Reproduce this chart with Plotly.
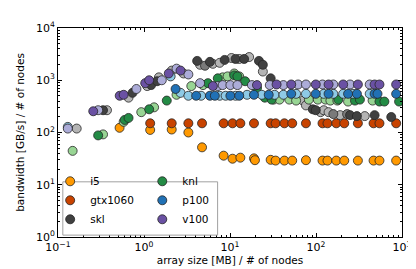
import plotly.graph_objects as go

# ---------------- data ----------------
i5_x = [0.52, 1.18, 2.1, 3.28, 4.73, 8.43, 10.7, 13.2, 19.0, 19.5, 29.7, 33.9, 42.9, 52.9, 76.4,
        119, 136, 172, 213, 307, 467, 547, 855]
i5_y = [123, 112, 114, 100, 52, 36, 31.5, 33, 32, 29.5, 30, 29, 29, 29, 29.5,
        29, 29, 29, 29, 29, 29, 29, 29]

gtx_x = [1.18, 2.1, 3.28, 4.73, 8.43, 10.7, 13.2, 19.0, 29.7, 33.9, 42.9, 52.9, 76.4,
         119, 136, 172, 213, 307, 467, 547, 855]
gtx_y = [150, 150, 150, 150, 150, 150, 150, 150, 150, 150, 150, 150, 150,
         150, 150, 150, 150, 150, 150, 150, 150]

skl_light_x = [0.165, 0.371, 0.661, 1.089, 1.49, 2.10, 2.88, 4.49, 6.32, 7.59, 10.4, 12.8, 16.7,
               24.1, 70.6, 76.4, 113, 123, 140, 191, 369]
skl_light_y = [119, 267, 464, 774, 1136, 1531, 1348, 1978, 2064, 2154, 2667, 2556, 2780,
               1468, 408, 330, 245, 267, 245, 215, 206]
skl_mid_x = [5.12, 159, 230]
skl_mid_y = [1895, 225, 225]
skl_dark_x = [0.334, 0.735, 1.21, 1.42, 4.15, 5.84, 8.66, 11.6, 14.6, 21.7, 24.1, 29.7,
              91.8, 99.4, 249, 299, 480, 750]
skl_dark_y = [267, 574, 808, 958, 2346, 2248, 2449, 2556, 2556, 2346, 1978, 1089,
              278, 267, 215, 206, 215, 198]

knl_light_x = [0.148, 0.334, 0.58, 0.93, 1.31, 2.39, 3.55, 4.86, 8.22, 9.37, 11.2, 12.8,
               32.1, 37.6, 48.9, 58.7, 82.6, 105, 129, 147, 177, 236, 455]
knl_light_y = [44.5, 92, 160, 245, 303, 527, 774, 808, 1136, 1186, 1348, 1186,
               426, 426, 426, 408, 426, 426, 426, 408, 408, 391, 408]
knl_dark_x = [0.293, 0.596, 0.661, 1.148, 1.84, 5.54, 7.21, 11.2, 12.2, 15.0, 20.6, 25.4, 30.5,
              182, 284, 324, 547, 624, 925]
knl_dark_y = [88, 174, 190, 278, 408, 880, 1089, 1238, 1186, 958, 711, 464, 426,
              426, 408, 426, 391, 391, 391]

p100_light_x = [0.13, 2.04, 2.66, 3.28, 4.61, 7.59, 8.89, 11.6, 15.8, 23.4, 33.0, 41.8,
                58.7, 76.4, 123, 159, 207, 269, 421]
p100_light_y = [128, 1186, 574, 505, 505, 505, 505, 505, 527, 527, 527, 527,
                550, 550, 550, 550, 550, 550, 550]
p100_dark_x = [2.33, 4.04, 5.84, 6.66, 10.1, 12.8, 19.0, 28.2, 51.5, 99.4, 140, 236, 299,
               480, 519, 855]
p100_dark_y = [681, 505, 505, 505, 505, 505, 527, 527, 550, 550, 550, 550, 550,
               550, 550, 550]

v100_light_x = [0.13, 0.293, 0.816, 1.61, 2.39, 3.28, 4.49, 7.21, 8.22, 10.1, 12.2, 18.0,
                29.0, 41.8, 61.9, 76.4, 119, 159, 249, 421]
v100_light_y = [119, 267, 681, 1000, 1668, 1292, 880, 774, 808, 808, 808, 808,
                808, 808, 830, 830, 830, 830, 830, 830]
v100_dark_x = [0.257, 0.522, 0.58, 1.033, 1.148, 1.94, 2.66, 6.32, 20.6, 34.8, 51.5,
               99.4, 140, 207, 307, 480, 547, 855]
v100_dark_y = [255, 505, 527, 880, 1000, 1348, 1531, 774, 808, 830, 830,
               830, 830, 830, 830, 830, 830, 830]

x_tickvals = [0.1, 1, 10, 100, 1000]
x_ticktext = ["10<sup>\u22121</sup>", "10<sup>0</sup>", "10<sup>1</sup>", "10<sup>2</sup>", "10<sup>3</sup>"]
y_tickvals = [1, 10, 100, 1000, 10000]
y_ticktext = ["10<sup>0</sup>", "10<sup>1</sup>", "10<sup>2</sup>", "10<sup>3</sup>", "10<sup>4</sup>"]

# ---------------- figure ----------------
EDGE = dict(color="#262626", width=0.8)
MS = 9
FONT = "DejaVu Sans, Verdana, sans-serif"

fig = go.Figure()

def add(x, y, color, name=None, legend="legend"):
    fig.add_trace(go.Scatter(
        x=x, y=y, mode="markers", name=name or "",
        showlegend=name is not None, legend=legend,
        marker=dict(size=MS, color=color, line=EDGE),
        hoverinfo="skip"))

add(i5_x, i5_y, "#ff9900", "i5")
add(gtx_x, gtx_y, "#c84300", "gtx1060")
add(skl_light_x, skl_light_y, "#b4b4b4")
add(skl_mid_x, skl_mid_y, "#7a7a7a")
add(skl_dark_x, skl_dark_y, "#404040", "skl")
add(knl_light_x, knl_light_y, "#98d594")
add(knl_dark_x, knl_dark_y, "#238b45", "knl", "legend2")
add(p100_light_x, p100_light_y, "#8ecae6")
add(p100_dark_x, p100_dark_y, "#2171b5", "p100", "legend2")
add(v100_light_x, v100_light_y, "#acacd8")
add(v100_dark_x, v100_dark_y, "#6a51a3", "v100", "legend2")

minor_x = [k * 10 ** e for e in range(-1, 3) for k in range(2, 10)]
minor_y = [k * 10 ** e for e in range(0, 4) for k in range(2, 10)]

axis_common = dict(
    type="log", showgrid=False, zeroline=False,
    showline=True, linecolor="black", linewidth=1, mirror="allticks",
    ticks="inside", ticklen=4, tickwidth=1, tickcolor="black",
    tickfont=dict(family=FONT, size=11, color="black"),
)

fig.update_xaxes(
    range=[-1, 3], tickvals=x_tickvals, ticktext=x_ticktext,
    minor=dict(tickvals=minor_x, ticks="inside", ticklen=2, tickcolor="black", showgrid=False),
    title=dict(text="array size [MB] / # of nodes", font=dict(family=FONT, size=10.5, color="black"),
               standoff=1),
    **axis_common)
fig.update_yaxes(
    range=[0, 4], tickvals=y_tickvals, ticktext=y_ticktext,
    minor=dict(tickvals=minor_y, ticks="inside", ticklen=2, tickcolor="black", showgrid=False),
    title=dict(text="bandwidth [GB/s] / # of nodes", font=dict(family=FONT, size=10.5, color="black"),
               standoff=9),
    **axis_common)

leg_common = dict(
    orientation="v", yanchor="top", xanchor="left", traceorder="normal",
    bgcolor="rgba(0,0,0,0)", borderwidth=0, itemsizing="trace",
    font=dict(family=FONT, size=10.5, color="black"),
)
fig.update_layout(
    width=416, height=269,
    margin=dict(l=47, r=18, t=13, b=40),
    paper_bgcolor="white", plot_bgcolor="white",
    font=dict(family=FONT, size=11, color="black"),
    legend=dict(x=-0.0228, y=0.336, **leg_common),
    legend2=dict(x=0.245, y=0.336, **leg_common),
    shapes=[dict(type="rect", xref="paper", yref="paper",
                 x0=0.014, x1=0.464, y0=0.009, y1=0.264,
                 line=dict(color="#a0a0a0", width=1), fillcolor="white", layer="above")],
    showlegend=True,
)

fig.write_html("out.html")
